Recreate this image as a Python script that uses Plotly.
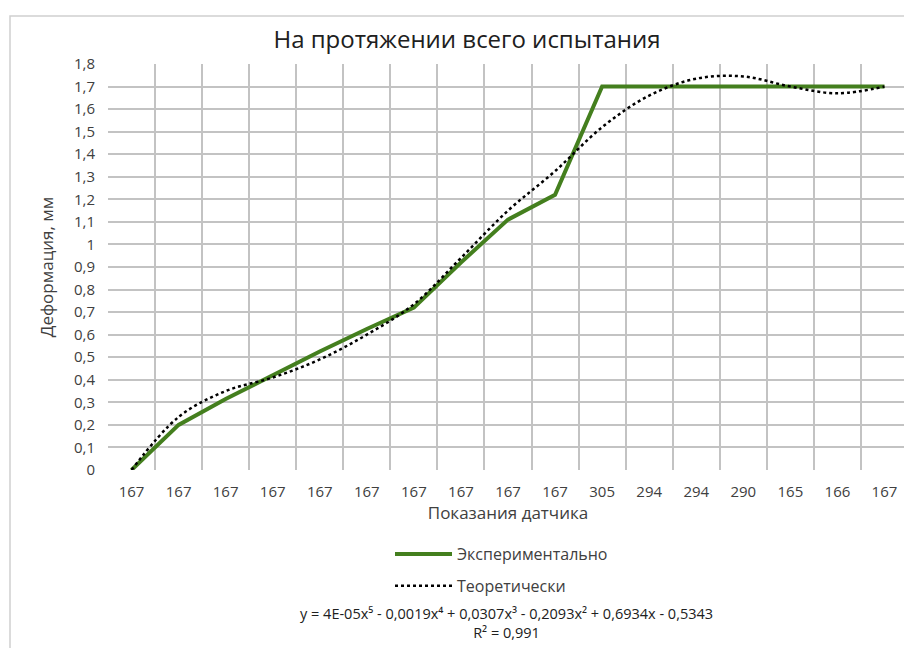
import plotly.graph_objects as go

# ---- data ----
sensor_labels = ["167", "167", "167", "167", "167", "167", "167", "167", "167", "167",
                 "305", "294", "294", "290", "165", "166", "167"]
experimental = [0.0, 0.20, 0.315, 0.42, 0.525, 0.625, 0.72, 0.92, 1.11, 1.22,
                1.70, 1.70, 1.70, 1.70, 1.70, 1.70, 1.70]
theoretical = [0.0, 0.235, 0.35, 0.41, 0.49, 0.60, 0.735, 0.94, 1.15, 1.325,
               1.52, 1.66, 1.735, 1.745, 1.70, 1.67, 1.70]
y_tick_values = [0, 0.1, 0.2, 0.3, 0.4, 0.5, 0.6, 0.7, 0.8, 0.9, 1.0,
                 1.1, 1.2, 1.3, 1.4, 1.5, 1.6, 1.7, 1.8]
y_tick_labels = ["0", "0,1", "0,2", "0,3", "0,4", "0,5", "0,6", "0,7", "0,8", "0,9", "1",
                 "1,1", "1,2", "1,3", "1,4", "1,5", "1,6", "1,7", "1,8"]
equation_text = "y = 4E-05x⁵ - 0,0019x⁴ + 0,0307x³ - 0,2093x² + 0,6934x - 0,5343"
r2_text = "R² = 0,991"

positions = list(range(1, len(sensor_labels) + 1))
boundaries = [p - 0.5 for p in positions] + [positions[-1] + 0.5]

FONT = "Open Sans"
TXT = "#404040"
GRID = "#c3c3c3"

# page body has an 8px margin; figure is sized/margined to compensate
W, H = 904, 640
PL, PT, PW, PH = 100, 56, 800, 406  # plot area inside figure

def px_x(screen_x):
    return (screen_x - 8 - PL) / PW

def px_y(screen_y):
    return 1 - (screen_y - 8 - PT) / PH

fig = go.Figure()
fig.add_trace(go.Scatter(
    x=positions, y=experimental, mode="lines", name="Экспериментально",
    legendgroup="a",
    line=dict(color="#447f1e", width=4),
))
fig.add_trace(go.Scatter(
    x=positions, y=theoretical, mode="lines", name="Теоретически",
    legendgroup="b",
    line=dict(color="black", width=2.5, dash="dot", shape="spline", smoothing=1.0),
))

fig.update_layout(
    width=W, height=H,
    margin=dict(l=PL, r=W - PL - PW, t=PT, b=H - PT - PH),
    paper_bgcolor="white", plot_bgcolor="white",
    font=dict(family=FONT, size=14, color=TXT),
    title=dict(text="На протяжении всего испытания", x=(467 - 8) / W, xanchor="center",
               y=1 - (40 - 8) / H, yanchor="middle",
               font=dict(family=FONT, size=24, color="#202020")),
    showlegend=True,
    legend=dict(orientation="v", x=px_x(398) - 0.01, xanchor="left", y=px_y(537), yanchor="top",
                itemwidth=57, tracegroupgap=8, traceorder="grouped",
                font=dict(family=FONT, size=16, color=TXT),
                bgcolor="rgba(0,0,0,0)"),
    xaxis=dict(
        range=[boundaries[0], boundaries[-1]],
        tickmode="array", tickvals=positions, ticktext=sensor_labels,
        showgrid=False, zeroline=False, showline=False, ticks="",
        ticklabelstandoff=11,
        tickfont=dict(family=FONT, size=15, color=TXT),
        minor=dict(tickmode="array", tickvals=boundaries, showgrid=True,
                   gridcolor=GRID, gridwidth=1.5, ticks=""),
        title=dict(text="Показания датчика", standoff=7,
                   font=dict(family=FONT, size=17, color=TXT)),
    ),
    yaxis=dict(
        range=[0, 1.8],
        tickmode="array", tickvals=y_tick_values, ticktext=y_tick_labels,
        showgrid=True, gridcolor=GRID, gridwidth=1.5,
        zeroline=False, showline=False, ticks="",
        ticklabelstandoff=12,
        tickfont=dict(family=FONT, size=15, color=TXT),
        title=dict(text="Деформация, мм", standoff=16,
                   font=dict(family=FONT, size=17, color=TXT)),
    ),
)

# outer chart frame
fig.add_shape(type="rect", xref="paper", yref="paper",
              x0=px_x(10), x1=px_x(925),
              y0=px_y(665), y1=px_y(16),
              line=dict(color="#d0d0d0", width=1.5), layer="below")

fig.add_annotation(text=equation_text + "<br>" + r2_text, xref="paper", yref="paper",
                   x=px_x(506), y=px_y(623),
                   showarrow=False, xanchor="center", yanchor="middle", align="center",
                   font=dict(family=FONT, size=14.5, color="#202020"))

fig.write_html("out.html")
